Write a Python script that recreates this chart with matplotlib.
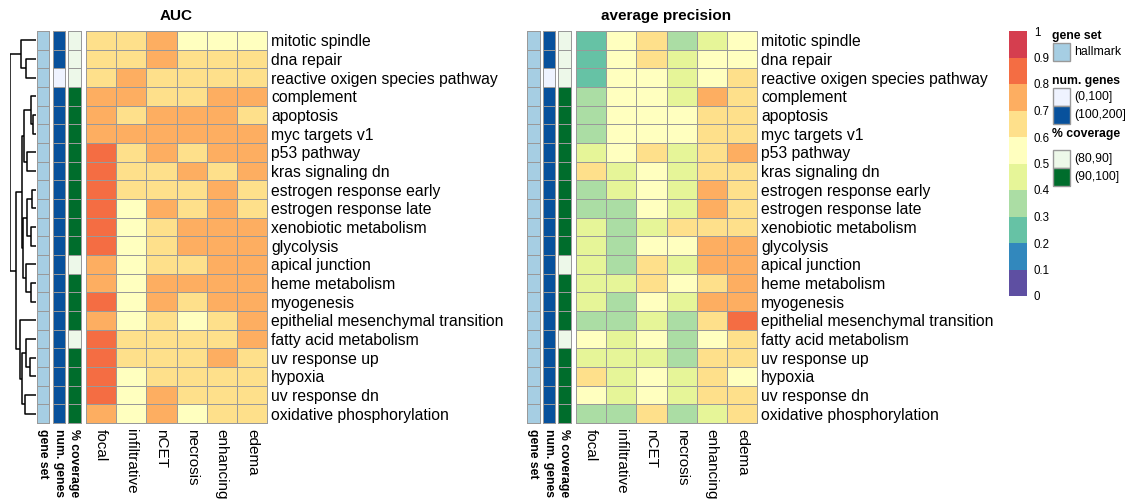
"""
AUC and average precision of hallmark gene sets per tumour region.

Two pheatmap-style panels with row annotations, a row dendrogram on the left
and a shared binned colour scale + annotation legend on the right.
"""

import matplotlib.pyplot as plt
import numpy as np
from matplotlib.cm import ScalarMappable
from matplotlib.colors import BoundaryNorm, ListedColormap
from matplotlib.patches import Rectangle

plt.rcParams["font.family"] = ["Liberation Sans", "DejaVu Sans"]

W, H = 1130, 504

genesets = [
    "mitotic spindle", "dna repair", "reactive oxigen species pathway",
    "complement", "apoptosis", "myc targets v1", "p53 pathway",
    "kras signaling dn", "estrogen response early", "estrogen response late",
    "xenobiotic metabolism", "glycolysis", "apical junction",
    "heme metabolism", "myogenesis", "epithelial mesenchymal transition",
    "fatty acid metabolism", "uv response up", "hypoxia", "uv response dn",
    "oxidative phosphorylation",
]
features = ["focal", "infiltrative", "nCET", "necrosis", "enhancing", "edema"]

auc = [
    [0.65, 0.65, 0.75, 0.55, 0.55, 0.55],
    [0.65, 0.65, 0.75, 0.65, 0.65, 0.65],
    [0.65, 0.75, 0.65, 0.65, 0.65, 0.65],
    [0.75, 0.75, 0.65, 0.65, 0.75, 0.75],
    [0.75, 0.65, 0.75, 0.75, 0.75, 0.65],
    [0.75, 0.75, 0.75, 0.75, 0.75, 0.75],
    [0.85, 0.65, 0.75, 0.65, 0.75, 0.75],
    [0.85, 0.65, 0.65, 0.75, 0.65, 0.75],
    [0.85, 0.65, 0.65, 0.65, 0.75, 0.65],
    [0.85, 0.55, 0.75, 0.65, 0.75, 0.65],
    [0.85, 0.55, 0.65, 0.75, 0.75, 0.75],
    [0.85, 0.55, 0.65, 0.75, 0.75, 0.75],
    [0.75, 0.55, 0.65, 0.65, 0.75, 0.75],
    [0.75, 0.55, 0.75, 0.75, 0.75, 0.75],
    [0.85, 0.55, 0.75, 0.65, 0.75, 0.75],
    [0.75, 0.55, 0.65, 0.55, 0.65, 0.75],
    [0.85, 0.65, 0.65, 0.65, 0.65, 0.75],
    [0.85, 0.65, 0.65, 0.65, 0.75, 0.65],
    [0.85, 0.55, 0.65, 0.65, 0.65, 0.65],
    [0.85, 0.55, 0.75, 0.65, 0.65, 0.65],
    [0.75, 0.55, 0.75, 0.55, 0.65, 0.65],
]

avg_precision = [
    [0.25, 0.55, 0.65, 0.35, 0.45, 0.55],
    [0.25, 0.55, 0.65, 0.45, 0.55, 0.55],
    [0.25, 0.55, 0.55, 0.45, 0.55, 0.65],
    [0.35, 0.55, 0.55, 0.45, 0.75, 0.65],
    [0.35, 0.55, 0.55, 0.55, 0.65, 0.65],
    [0.35, 0.55, 0.55, 0.55, 0.65, 0.65],
    [0.45, 0.55, 0.65, 0.45, 0.65, 0.75],
    [0.65, 0.45, 0.55, 0.45, 0.65, 0.65],
    [0.35, 0.45, 0.55, 0.45, 0.75, 0.65],
    [0.35, 0.35, 0.55, 0.45, 0.75, 0.65],
    [0.45, 0.35, 0.45, 0.65, 0.65, 0.65],
    [0.45, 0.35, 0.55, 0.55, 0.75, 0.75],
    [0.45, 0.35, 0.65, 0.45, 0.75, 0.75],
    [0.45, 0.45, 0.65, 0.55, 0.65, 0.75],
    [0.45, 0.35, 0.55, 0.45, 0.75, 0.75],
    [0.35, 0.35, 0.45, 0.35, 0.65, 0.85],
    [0.55, 0.45, 0.55, 0.35, 0.55, 0.65],
    [0.45, 0.45, 0.45, 0.35, 0.65, 0.65],
    [0.65, 0.45, 0.55, 0.45, 0.65, 0.55],
    [0.55, 0.45, 0.55, 0.45, 0.65, 0.65],
    [0.35, 0.35, 0.65, 0.35, 0.45, 0.65],
]

# row annotations
gene_set = ["hallmark"] * 21
num_genes = ["(100,200]"] * 21
num_genes[2] = "(0,100]"
coverage = ["(90,100]"] * 21
for i in (0, 1, 2, 12, 16):
    coverage[i] = "(80,90]"

annotations = [
    ("gene set", gene_set, {"hallmark": "#A6CEE3"}),
    ("num. genes", num_genes, {"(0,100]": "#EFF3FF", "(100,200]": "#08519C"}),
    ("% coverage", coverage, {"(80,90]": "#EDF8E9", "(90,100]": "#006D2C"}),
]

# row clustering, scipy-like: (left, right, height); new nodes numbered from 21
linkage = [
    (4, 5, 0.12), (3, 21, 0.20), (6, 7, 0.35), (22, 23, 0.46),
    (8, 9, 0.16), (10, 11, 0.20), (25, 26, 0.34), (13, 14, 0.20),
    (12, 28, 0.38), (27, 29, 0.50), (24, 30, 0.55), (17, 18, 0.23),
    (16, 32, 0.38), (19, 20, 0.42), (33, 34, 0.55), (15, 35, 0.62),
    (31, 36, 0.77), (1, 2, 0.38), (0, 38, 0.58), (39, 37, 1.00),
]

palette = ["#5E4FA2", "#3288BD", "#66C2A5", "#ABDDA4", "#E6F598",
           "#FFFFBF", "#FEE08B", "#FDAE61", "#F46D43", "#D53E4F"]
cmap = ListedColormap(palette)
bounds = np.linspace(0, 1, 11)
norm = BoundaryNorm(bounds, cmap.N)
GRID = "#999999"
EDGE_LW = 0.68

fig = plt.figure(figsize=(W / 100, H / 100), dpi=100)


def px_axes(x0, y0, x1, y1):
    return fig.add_axes([x0 / W, 1 - y1 / H, (x1 - x0) / W, (y1 - y0) / H])


def clean(ax):
    for s in ax.spines.values():
        s.set_visible(False)
    ax.tick_params(length=0)


def draw_dendrogram(ax):
    n = len(genesets)
    pos = {i: (i + 0.5, 0.0) for i in range(n)}
    for k, (a, b, h) in enumerate(linkage):
        ya, ha = pos[a]
        yb, hb = pos[b]
        ax.plot([ha, h, h, hb], [ya, ya, yb, yb], color="black", lw=1.1,
                solid_capstyle="butt")
        pos[n + k] = ((ya + yb) / 2, h)
    ax.set_xlim(1.0, 0)
    ax.set_ylim(n, 0)
    ax.axis("off")


def draw_panel(x0, title, values):
    n = len(genesets)
    # annotation columns
    ann_x = [(x0, x0 + 12.5), (x0 + 15.5, x0 + 28), (x0 + 31, x0 + 43.5)]
    for (name, vals, colors), (ax0, ax1) in zip(annotations, ann_x):
        cats = list(colors)
        ax = px_axes(ax0, 31, ax1, 423)
        idx = np.array([[cats.index(v)] for v in vals])
        m = ax.pcolormesh(idx, cmap=ListedColormap([colors[c] for c in cats]),
                          vmin=-0.5, vmax=len(cats) - 0.5,
                          edgecolors=GRID, linewidth=EDGE_LW)
        m.set_clip_on(False)
        ax.set_xlim(0, 1)
        ax.set_ylim(n, 0)
        ax.set_yticks([])
        ax.set_xticks([0.5], [name], rotation=270, fontsize=8.8,
                      fontweight="bold")
        ax.tick_params(axis="x", pad=4)
        clean(ax)

    # main heatmap
    ax = px_axes(x0 + 49, 31, x0 + 230, 423)
    m = ax.pcolormesh(np.array(values), cmap=cmap, norm=norm,
                      edgecolors=GRID, linewidth=EDGE_LW)
    m.set_clip_on(False)
    ax.set_xlim(0, len(features))
    ax.set_ylim(n, 0)
    ax.set_xticks(np.arange(len(features)) + 0.5, features, rotation=270,
                  fontsize=11)
    ax.yaxis.tick_right()
    ax.set_yticks(np.arange(n) + 0.5, genesets, fontsize=11.3)
    ax.tick_params(axis="x", pad=4)
    ax.tick_params(axis="y", pad=3)
    clean(ax)
    ax.set_title(title, fontsize=11, fontweight="bold", pad=8)


draw_dendrogram(px_axes(10, 31, 36, 423))
draw_panel(37, "AUC", auc)
draw_panel(527, "average precision", avg_precision)

# colour scale
cax = px_axes(1009, 31, 1027, 296)
cb = fig.colorbar(ScalarMappable(norm=norm, cmap=cmap), cax=cax, ticks=bounds)
cb.outline.set_visible(False)
cb.ax.set_yticklabels([f"{b:g}" for b in bounds])
cax.tick_params(length=0, labelsize=8.3, pad=5)

# annotation legend
lg = fig.add_axes([0, 0, 1, 1])
lg.set_xlim(0, W)
lg.set_ylim(H, 0)
lg.axis("off")
title_y = [36, 81, 134]
box_top = [43, 88, 150]
for (name, vals, colors), ty, by in zip(annotations, title_y, box_top):
    lg.text(1052, ty, name, fontsize=8.8, fontweight="bold", va="center")
    for j, (cat, col) in enumerate(colors.items()):
        y = by + j * 18
        lg.add_patch(Rectangle((1053, y), 17, 17.5, facecolor=col,
                               edgecolor=GRID, lw=1.0))
        lg.text(1074, y + 9, cat, fontsize=8.8, va="center")

fig.savefig("out.png", dpi=100)
